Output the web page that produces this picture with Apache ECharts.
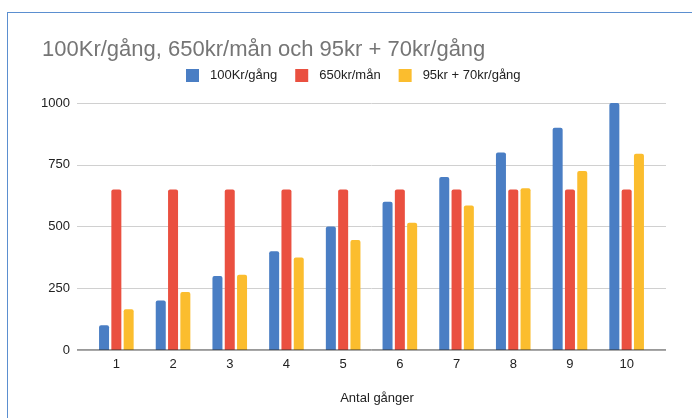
<!DOCTYPE html>
<html><head><meta charset="utf-8">
<script src="https://cdn.jsdelivr.net/npm/echarts@6/dist/echarts.min.js"></script>
<style>
html,body{margin:0;padding:0;background:#fff;}
#frame{position:absolute;left:7px;top:12px;width:700px;height:420px;border-top:1.5px solid #5b8fd0;border-left:1.5px solid #5b8fd0;}
#c{position:absolute;left:0;top:0;width:692px;height:418px;}
</style></head>
<body><div id="frame"></div><div id="c"></div>
<script>
var categories = ['1','2','3','4','5','6','7','8','9','10'];
var names = ['100Kr/gång','650kr/mån','95kr + 70kr/gång'];
var s1 = [100,200,300,400,500,600,700,800,900,1000];
var s2 = [650,650,650,650,650,650,650,650,650,650];
var s3 = [165,235,305,375,445,515,585,655,725,795];
var colors = ['#4a7ec4','#ea5040','#fbbd2e'];
var chart = echarts.init(document.getElementById('c'));
var font = 'Arial, "Liberation Sans", sans-serif';
function bar(n,d){return {name:n,type:'bar',data:d,barWidth:10,barGap:'23%',xAxisIndex:0,yAxisIndex:0,itemStyle:{borderRadius:[2,2,0,0]}};}
chart.setOption({
  animation:false,
  color:colors,
  title:{text:'100Kr/gång, 650kr/mån och 95kr + 70kr/gång',left:37,top:34,textStyle:{fontFamily:font,fontSize:22,fontWeight:'normal',color:'#757575'}},
  legend:{top:64,left:181,itemWidth:13,itemHeight:13,itemGap:18,icon:'rect',textStyle:{fontFamily:font,fontSize:13,color:'#222',padding:[0,0,0,6]},data:names},
  grid:[{left:88,right:37,top:103,bottom:68},{left:77,right:26,top:103,bottom:68}],
  xAxis:[{type:'category',gridIndex:0,data:categories,name:'Antal gånger',nameLocation:'middle',nameGap:42,nameTextStyle:{fontFamily:font,fontSize:13,color:'#222',padding:[0,0,0,11]},
    axisTick:{show:false},axisLine:{show:false},axisLabel:{fontFamily:font,fontSize:13,color:'#222',margin:8}},
    {type:'value',gridIndex:1,min:0,max:1,axisLabel:{show:false},splitLine:{show:false},axisTick:{show:false},axisLine:{show:false}}],
  yAxis:[{type:'value',gridIndex:0,min:0,max:1000,interval:250,axisLabel:{show:false},splitLine:{show:false},axisLine:{show:false},axisTick:{show:false}},
    {type:'value',gridIndex:1,min:0,max:1000,interval:250,axisLabel:{fontFamily:font,fontSize:13,color:'#222',margin:7,formatter:function(v){return String(v);}},
    splitLine:{lineStyle:{color:'#d0d0d0'}},axisLine:{show:false},axisTick:{show:false}}],
  series:[bar(names[0],s1),bar(names[1],s2),bar(names[2],s3),
    {type:'line',xAxisIndex:1,yAxisIndex:1,data:[[0,0],[1,0]],symbol:'none',silent:true,lineStyle:{color:'#333',width:1},z:5}]
});
</script></body></html>
